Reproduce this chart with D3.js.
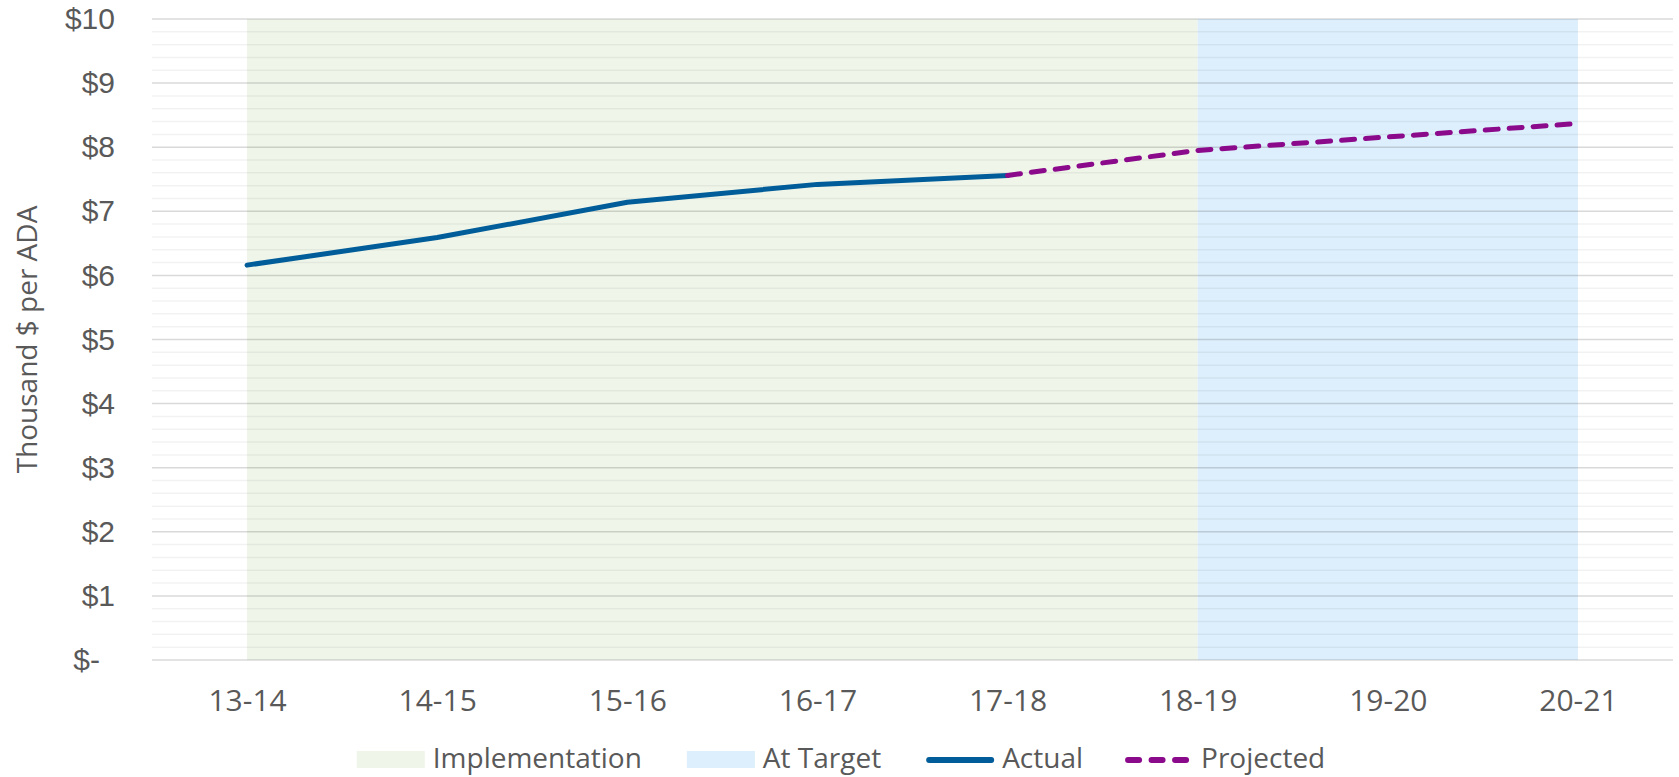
<!DOCTYPE html>
<html>
<head>
<meta charset="utf-8">
<script src="https://cdn.jsdelivr.net/npm/d3@7"></script>
<style>
  html, body { margin: 0; padding: 0; background: #ffffff; }
  svg { display: block; }
  text { font-family: "Open Sans", "Noto Sans", sans-serif; fill: #595959; }
</style>
</head>
<body>
<svg id="chart" width="1679" height="777"></svg>
<script>
// School years on the horizontal axis
const years = ["13-14", "14-15", "15-16", "16-17", "17-18", "18-19", "19-20", "20-21"];

// Funding per ADA, thousands of dollars
const actualYears = ["13-14", "14-15", "15-16", "16-17", "17-18"];
const actualValues = [6.16, 6.59, 7.14, 7.42, 7.56];

const projectedYears = ["17-18", "18-19", "19-20", "20-21"];
const projectedValues = [7.56, 7.95, 8.16, 8.37];

// Phase shading: [label, start year, end year]
const phaseNames = ["Implementation", "At Target"];
const phaseStart = ["13-14", "18-19"];
const phaseEnd = ["18-19", "20-21"];

// Y axis ticks
const yMajorTicks = [0, 1, 2, 3, 4, 5, 6, 7, 8, 9, 10];
const yMinorTicks = d3.range(0, 10.001, 0.2);

const yTitle = "Thousand $ per ADA";
const legendLabels = ["Implementation", "At Target", "Actual", "Projected"];

const COLORS = {
  implementation: "#eff5e9",
  target: "#ddeffc",
  actual: "#005d99",
  projected: "#8b098b"
};

const svg = d3.select("#chart");
const plot = { left: 152, right: 1673, top: 19, bottom: 660 };

const x = d3.scalePoint()
  .domain(years)
  .range([plot.left, plot.right])
  .padding(0.5);

const y = d3.scaleLinear()
  .domain([0, 10])
  .range([plot.bottom, plot.top]);

// Shaded phases
const phases = phaseNames.map((name, i) => ({ name, start: phaseStart[i], end: phaseEnd[i] }));
svg.append("g")
  .selectAll("rect")
  .data(phases)
  .join("rect")
  .attr("x", d => x(d.start))
  .attr("width", d => x(d.end) - x(d.start))
  .attr("y", y(10))
  .attr("height", y(0) - y(10))
  .attr("fill", (d, i) => i === 0 ? COLORS.implementation : COLORS.target);

// Minor and major gridlines
const grid = svg.append("g");
grid.selectAll("line.minor")
  .data(yMinorTicks.filter(v => Math.abs(v - Math.round(v)) > 1e-6))
  .join("line")
  .attr("class", "minor")
  .attr("x1", plot.left).attr("x2", plot.right)
  .attr("y1", d => y(d)).attr("y2", d => y(d))
  .attr("stroke", "rgba(0,0,0,0.05)")
  .attr("stroke-width", 1.5);

grid.selectAll("line.major")
  .data(yMajorTicks)
  .join("line")
  .attr("class", "major")
  .attr("x1", plot.left).attr("x2", plot.right)
  .attr("y1", d => y(d)).attr("y2", d => y(d))
  .attr("stroke", "rgba(0,0,0,0.15)")
  .attr("stroke-width", 1.5);

// Y axis labels
const yAxis = svg.append("g")
  .attr("transform", `translate(${plot.left - 37},0)`)
  .call(d3.axisLeft(y).tickValues(yMajorTicks).tickSize(0).tickPadding(0)
    .tickFormat(d => d === 0 ? "$-" : "$" + d));
yAxis.select(".domain").remove();
yAxis.selectAll("text")
  .attr("font-size", 30)
  .attr("fill", "#595959")
  .style("font-family", "'Liberation Sans', Arial, sans-serif")
  .attr("dx", d => d === 0 ? -15 : 0);

// X axis labels
const xAxis = svg.append("g")
  .attr("transform", `translate(0,${plot.bottom})`)
  .call(d3.axisBottom(x).tickSize(0).tickPadding(0));
xAxis.select(".domain").remove();
xAxis.selectAll("text")
  .attr("font-size", 30)
  .attr("fill", "#595959")
  .style("font-family", "'Open Sans', sans-serif")
  .attr("dy", null)
  .attr("y", 51);

// Y axis title
svg.append("text")
  .attr("transform", `translate(37,${(plot.top + plot.bottom) / 2}) rotate(-90)`)
  .attr("text-anchor", "middle")
  .attr("font-size", 28)
  .text(yTitle);

// Lines
const line = d3.line().x(d => x(d.year)).y(d => y(d.value));
const actual = actualYears.map((year, i) => ({ year, value: actualValues[i] }));
const projected = projectedYears.map((year, i) => ({ year, value: projectedValues[i] }));

svg.append("path")
  .datum(actual)
  .attr("d", line)
  .attr("fill", "none")
  .attr("stroke", COLORS.actual)
  .attr("stroke-width", 5)
  .attr("stroke-linejoin", "round")
  .attr("stroke-linecap", "round");

svg.append("path")
  .datum(projected)
  .attr("d", line)
  .attr("fill", "none")
  .attr("stroke", COLORS.projected)
  .attr("stroke-width", 5)
  .attr("stroke-linejoin", "round")
  .attr("stroke-linecap", "round")
  .attr("stroke-dasharray", "13,11");

// Legend
const legend = svg.append("g");
const legendY = 760;
const swatchW = 68;
const swatchGap = 8;
const itemGap = 45;
const items = legendLabels.map((label, i) => ({ label, i }));
const itemG = legend.selectAll("g").data(items).join("g");

itemG.each(function (d) {
  const g = d3.select(this);
  if (d.i < 2) {
    g.append("rect")
      .attr("x", 0).attr("y", legendY - 9)
      .attr("width", swatchW).attr("height", 17)
      .attr("fill", d.i === 0 ? COLORS.implementation : COLORS.target);
  } else {
    g.append("line")
      .attr("x1", 3).attr("x2", swatchW - 3)
      .attr("y1", legendY).attr("y2", legendY)
      .attr("stroke", d.i === 2 ? COLORS.actual : COLORS.projected)
      .attr("stroke-width", 6)
      .attr("stroke-linecap", "round")
      .attr("stroke-dasharray", d.i === 3 ? "11,12.5" : null);
  }
  g.append("text")
    .attr("x", swatchW + swatchGap)
    .attr("y", legendY + 8)
    .attr("font-size", 28)
    .text(d.label);
});

const widths = [];
itemG.each(function () {
  widths.push(this.getBBox().width);
});
const total = d3.sum(widths) + itemGap * (widths.length - 1);
let cursor = 1679 / 2 - total / 2;
itemG.attr("transform", (d, i) => {
  const t = `translate(${cursor},0)`;
  cursor += widths[i] + itemGap;
  return t;
});
</script>
</body>
</html>
